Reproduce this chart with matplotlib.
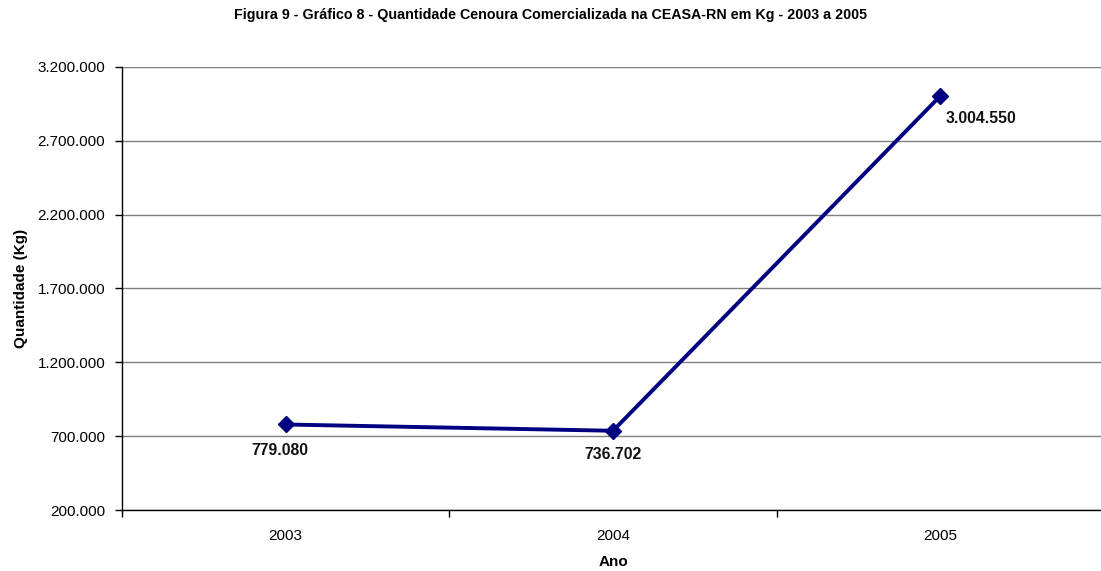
import matplotlib
matplotlib.use("Agg")
import matplotlib.pyplot as plt
from matplotlib.ticker import FuncFormatter, FixedLocator

plt.rcParams['font.family'] = ['Liberation Sans', 'DejaVu Sans']

anos = ["2003", "2004", "2005"]
quantidade = [779080, 736702, 3004550]
rotulos = ["779.080", "736.702", "3.004.550"]
y_ticks = [200000, 700000, 1200000, 1700000, 2200000, 2700000, 3200000]

fig = plt.figure(figsize=(11.01, 5.71), dpi=100)
ax = fig.add_axes([0.1108, 0.1068, 0.892, 0.7759])

x = list(range(len(anos)))
ax.plot(x, quantidade, color="#000080", lw=2.8, marker="D", ms=8,
        markeredgecolor="#000080", markerfacecolor="#000080", zorder=3,
        clip_on=False)

# data labels
offsets = [(-4, -13, "center", "top"), (0, -12, "center", "top"), (4, -11, "left", "top")]
for xi, yi, lab, (dx, dy, ha, va) in zip(x, quantidade, rotulos, offsets):
    ax.annotate(lab, (xi, yi), xytext=(dx, dy), textcoords="offset points",
                ha=ha, va=va, fontsize=11.3, fontweight="bold", color="#111111")

ax.set_xlim(-0.5, 2.5)
ax.set_ylim(200000, 3200000)
ax.set_yticks(y_ticks)
ax.yaxis.set_major_formatter(FuncFormatter(lambda v, p: f"{int(v):,}".replace(",", ".")))
ax.grid(axis="y", color="#808080", lw=1.0)
ax.set_axisbelow(True)

# category labels centred, ticks on the boundaries
ax.set_xticks(x)
ax.set_xticklabels(anos)
ax.tick_params(axis="x", which="major", length=0, pad=14, labelsize=11)
ax.xaxis.set_minor_locator(FixedLocator([-0.5, 0.5, 1.5, 2.5]))
ax.tick_params(axis="x", which="minor", length=5, width=1, color="black")
ax.tick_params(axis="y", length=5, width=1, labelsize=11, pad=7)

for s in ["top", "right"]:
    ax.spines[s].set_visible(False)
ax.spines["left"].set_linewidth(1.0)
ax.spines["bottom"].set_linewidth(1.0)

ax.set_xlabel("Ano", fontsize=11, fontweight="bold", labelpad=8)
ax.set_ylabel("Quantidade (Kg)", fontsize=11, fontweight="bold", labelpad=7)

fig.text(0.5, 1 - 15 / 571, "Figura 9 - Gráfico 8 - Quantidade Cenoura Comercializada na CEASA-RN em Kg - 2003 a 2005",
         ha="center", va="center", fontsize=10.3, fontweight="bold")

fig.savefig("out.png", dpi=100)
